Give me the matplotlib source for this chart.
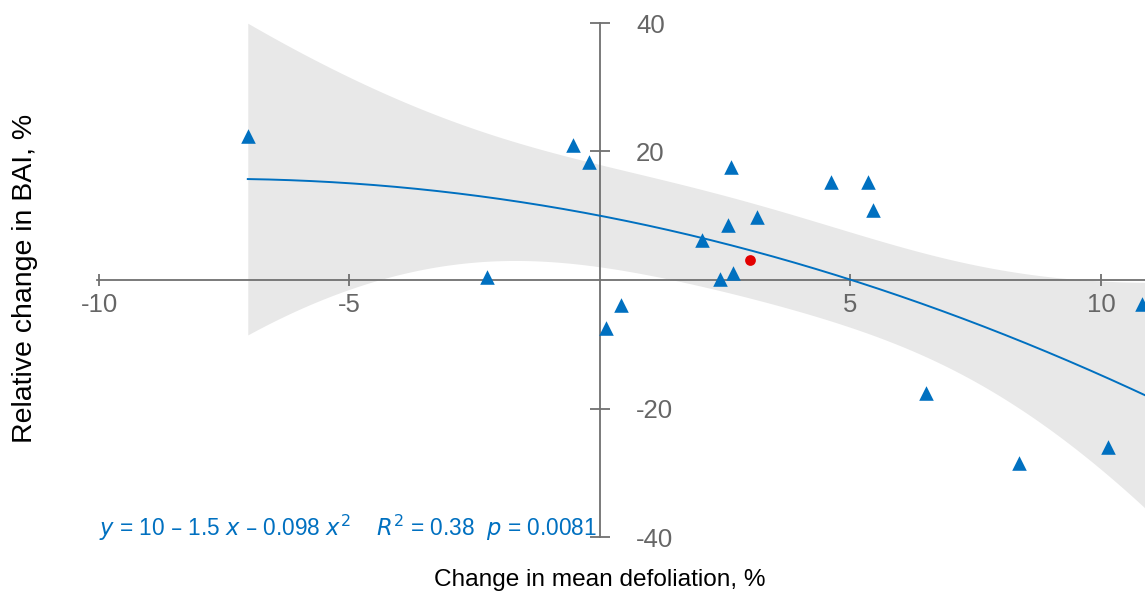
import matplotlib.pyplot as plt
import numpy as np

plt.rcParams['font.family'] = ['Liberation Sans', 'DejaVu Sans']
plt.rcParams['axes.unicode_minus'] = False

# change in mean defoliation (%) and relative change in BAI (%) per plot
defoliation = [-7.03, -2.26, -0.54, -0.22, 0.12, 0.42, 2.04, 2.40, 2.55, 2.61,
               2.65, 3.13, 4.61, 5.35, 5.45, 6.50, 8.36, 10.14, 10.82]
bai_change = [22.4, 0.4, 21.0, 18.4, -7.5, -3.9, 6.2, 0.2, 8.6, 17.6,
              1.1, 9.8, 15.2, 15.2, 10.9, -17.6, -28.5, -26.0, -3.7]

# highlighted plot
ref_x = [2.99]
ref_y = [3.1]

# quadratic fit as reported
coef = [10, -1.5, -0.098]
eq_text = r'$y$ = 10 – 1.5 $x$ – 0.098 $x^2$    $R^2$ = 0.38  $p$ = 0.0081'

xticks = [-10, -5, 5, 10]
yticks = [-40, -20, 20, 40]

blue = '#0070C0'
grey = '#707070'

x = np.array(defoliation)
y = np.array(bai_change)

# 95% confidence band of the quadratic fit
X = np.column_stack([np.ones_like(x), x, x ** 2])
resid = y - X @ np.array(coef)
dof = len(x) - 3
s2 = resid @ resid / dof
cov = s2 * np.linalg.inv(X.T @ X)
t_crit = 2.12  # t(0.975, 16)

xs = np.linspace(x.min(), 10.9, 300)
Xs = np.column_stack([np.ones_like(xs), xs, xs ** 2])
fit = Xs @ np.array(coef)
se = np.sqrt(np.einsum('ij,jk,ik->i', Xs, cov, Xs))

fig = plt.figure(figsize=(11.45, 6), dpi=100)
ax = fig.add_axes([97 / 1145, 50 / 600, 1048 / 1145, 540 / 600])

ax.fill_between(xs, fit - t_crit * se, fit + t_crit * se, color='#e8e8e8', lw=0, zorder=1)
ax.plot(xs, fit, color=blue, lw=1.4, zorder=2)
ax.scatter(x, y, marker='^', s=110, color=blue, lw=0, zorder=3)
ax.scatter(ref_x, ref_y, marker='o', s=60, color='#e30000', lw=0, zorder=3)

ax.set_xlim(-10.04, 10.88)
ax.set_ylim(-42, 42)

for side in ['top', 'right']:
    ax.spines[side].set_visible(False)
ax.spines['left'].set_position(('data', 0))
ax.spines['bottom'].set_position(('data', 0))
ax.spines['left'].set_bounds(-40, 40)
for side in ['left', 'bottom']:
    ax.spines[side].set_color(grey)
    ax.spines[side].set_linewidth(1.3)
    ax.spines[side].set_zorder(1.5)

ax.set_xticks(xticks)
ax.set_xticklabels([str(v) for v in xticks])
ax.set_yticks(yticks)
ax.tick_params(axis='x', direction='inout', length=8, width=1.3, color=grey,
               labelcolor='#666666', labelsize=18.5, pad=5)
ax.tick_params(axis='y', direction='inout', length=14.4, width=1.3, color=grey,
               labelleft=False)

# y tick labels sit to the right of the centred axis
for v in yticks:
    ax.annotate(str(v), xy=(0, v), xytext=(26, -2), textcoords='offset points',
                ha='left', va='center', fontsize=18.5, color='#666666')

ax.text(-10.0, -38.6, eq_text, color=blue, fontsize=16.3, ha='left', va='center')

fig.text(0.524, 0.033, 'Change in mean defoliation, %', ha='center', va='center', fontsize=17.6)
fig.text(0.022, 0.536, 'Relative change in BAI, %', ha='center', va='center',
         rotation=90, fontsize=20.5)

fig.savefig('out.png', dpi=100)
